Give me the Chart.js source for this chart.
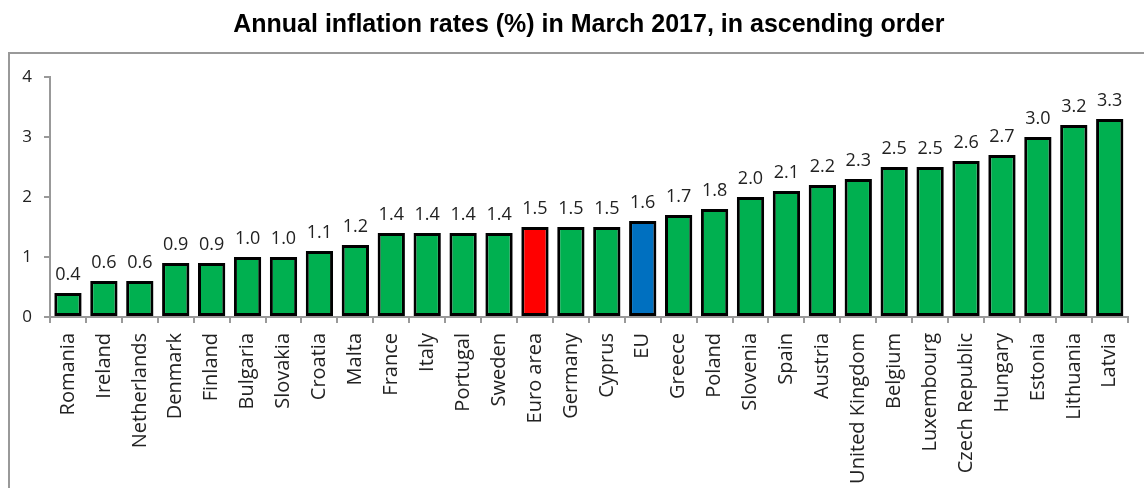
<!DOCTYPE html>
<html>
<head>
<meta charset="utf-8">
<script src="https://cdn.jsdelivr.net/npm/chart.js@4.4.1/dist/chart.umd.min.js"></script>
<style>
  html, body { margin: 0; padding: 0; background: #fff; }
  #wrap { width: 1144px; height: 488px; }
</style>
</head>
<body>
<div id="wrap"><canvas id="grafica" width="1144" height="488"></canvas></div>
<script>
const paises = ["Romania", "Ireland", "Netherlands", "Denmark", "Finland", "Bulgaria", "Slovakia", "Croatia", "Malta", "France", "Italy", "Portugal", "Sweden", "Euro area", "Germany", "Cyprus", "EU", "Greece", "Poland", "Slovenia", "Spain", "Austria", "United Kingdom", "Belgium", "Luxembourg", "Czech Republic", "Hungary", "Estonia", "Lithuania", "Latvia"]
const tasas = [0.4, 0.6, 0.6, 0.9, 0.9, 1.0, 1.0, 1.1, 1.2, 1.4, 1.4, 1.4, 1.4, 1.5, 1.5, 1.5, 1.6, 1.7, 1.8, 2.0, 2.1, 2.2, 2.3, 2.5, 2.5, 2.6, 2.7, 3.0, 3.2, 3.3]
const ticks_y = [0, 1, 2, 3, 4]

const VERDE = "#00b050", ROJO = "#ff0000", AZUL = "#0070c0"
const colores = paises.map((p) => p === "Euro area" ? ROJO : (p === "EU" ? AZUL : VERDE))

const FUENTE = "'Open Sans', Lato, sans-serif"
const GRIS = "#999999"

// marco gris alrededor del grafico
const marco = {
    id: "marco",
    beforeDraw(chart) {
        const ctx = chart.ctx
        ctx.save()
        ctx.strokeStyle = GRIS
        ctx.lineWidth = 2
        ctx.strokeRect(9, 53, chart.width + 20, chart.height + 20)
        ctx.restore()
    }
}

// etiquetas de valor sobre las barras
const etiquetas = {
    id: "etiquetas",
    afterDatasetsDraw(chart) {
        const ctx = chart.ctx
        const meta = chart.getDatasetMeta(0)
        ctx.save()
        ctx.font = "18px " + FUENTE
        ctx.fillStyle = "#222"
        ctx.textAlign = "center"
        ctx.textBaseline = "alphabetic"
        meta.data.forEach((bar, i) => {
            ctx.fillText(tasas[i].toFixed(1), bar.x, bar.y - 13)
        })
        ctx.restore()
    }
}

const config = {
    type: "bar",
    data: {
        labels: paises,
        datasets: [{
            data: tasas,
            backgroundColor: colores,
            borderColor: "#000",
            borderWidth: 3,
            borderSkipped: false,
            barPercentage: 0.76,
            categoryPercentage: 1
        }]
    },
    options: {
        responsive: false,
        animation: false,
        layout: { padding: { left: 0, right: 9, top: 0, bottom: 0 } },
        plugins: {
            legend: { display: false },
            tooltip: { enabled: false },
            title: {
                display: true,
                fullSize: false,
                text: "Annual inflation rates (%) in March 2017, in ascending order",
                color: "#000",
                font: { family: "'Liberation Sans', Arial, sans-serif", size: 25, weight: "bold" },
                padding: { top: 10, bottom: 37 }
            }
        },
        scales: {
            x: {
                grid: { display: true, drawOnChartArea: false, drawTicks: true, tickLength: 6, color: GRIS, lineWidth: 2, offset: true },
                border: { display: true, color: GRIS, width: 2 },
                ticks: {
                    maxRotation: 90, minRotation: 90, autoSkip: false, padding: 10,
                    color: "#222", font: { family: FUENTE, size: 20 }
                },
                afterFit(scale) { scale.height = 488 - 317 }
            },
            y: {
                min: 0, max: 4,
                afterBuildTicks(scale) { scale.ticks = ticks_y.map((v) => ({ value: v })) },
                grid: { display: true, drawOnChartArea: false, drawTicks: true, tickLength: 6, color: GRIS, lineWidth: 2 },
                border: { display: true, color: GRIS, width: 2 },
                ticks: { padding: 12, color: "#222", font: { family: FUENTE, size: 17 } },
                afterFit(scale) { scale.width = 50 }
            }
        }
    },
    plugins: [marco, etiquetas]
}

const chart = new Chart(document.getElementById("grafica"), config)
</script>
</body>
</html>
